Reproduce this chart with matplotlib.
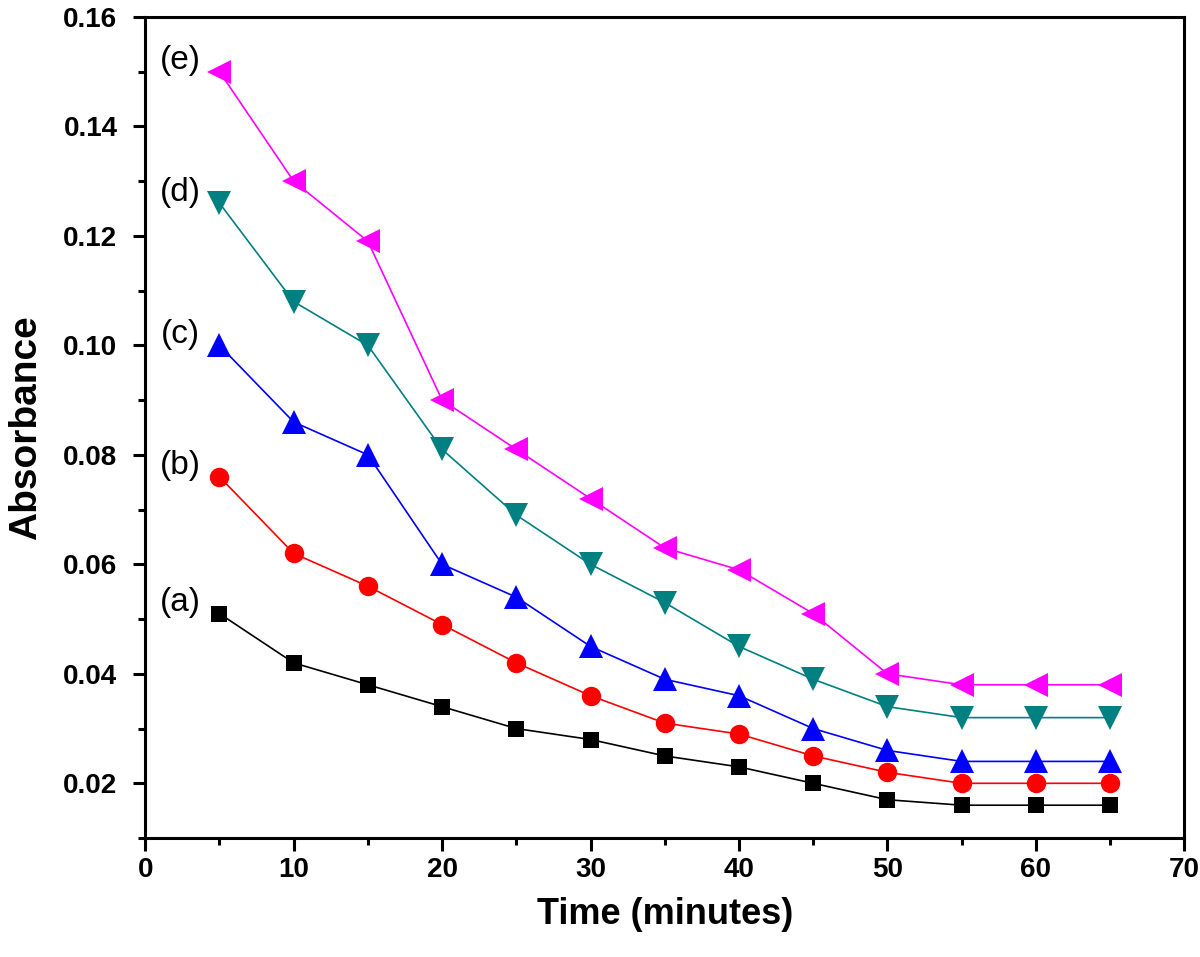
import matplotlib

matplotlib.use("Agg")
import matplotlib.pyplot as plt
from matplotlib.ticker import MultipleLocator

plt.rcParams["font.family"] = ["Liberation Sans", "DejaVu Sans"]

# time points (minutes)
time = [5, 10, 15, 20, 25, 30, 35, 40, 45, 50, 55, 60, 65]

# absorbance curves (a)-(e)
abs_a = [0.051, 0.042, 0.038, 0.034, 0.030, 0.028, 0.025, 0.023, 0.020, 0.017, 0.016, 0.016, 0.016]
abs_b = [0.076, 0.062, 0.056, 0.049, 0.042, 0.036, 0.031, 0.029, 0.025, 0.022, 0.020, 0.020, 0.020]
abs_c = [0.100, 0.086, 0.080, 0.060, 0.054, 0.045, 0.039, 0.036, 0.030, 0.026, 0.024, 0.024, 0.024]
abs_d = [0.126, 0.108, 0.100, 0.081, 0.069, 0.060, 0.053, 0.045, 0.039, 0.034, 0.032, 0.032, 0.032]
abs_e = [0.150, 0.130, 0.119, 0.090, 0.081, 0.072, 0.063, 0.059, 0.051, 0.040, 0.038, 0.038, 0.038]

labels = ["(a)", "(b)", "(c)", "(d)", "(e)"]

series = [
    (abs_a, "black", "s", 12),
    (abs_b, "red", "o", 14),
    (abs_c, "blue", "^", 17),
    (abs_d, "#008080", "v", 17),
    (abs_e, "magenta", "<", 17),
]

fig = plt.figure(figsize=(12, 9.57), dpi=100)
ax = fig.add_axes([0.121, 0.1243, 0.866, 0.8580])

for (ys, color, marker, ms), lab in zip(series, labels):
    ax.plot(time, ys, color=color, marker=marker, markersize=ms, linewidth=1.2,
            markeredgewidth=0)
    # curve label to the left of the first point
    ax.text(time[0] - 2.6, ys[0] + 0.0020, lab, fontsize=24, ha="center", va="center")

ax.set_xlim(0, 70)
ax.set_ylim(0.01, 0.16)
ax.xaxis.set_major_locator(MultipleLocator(10))
ax.xaxis.set_minor_locator(MultipleLocator(5))
ax.yaxis.set_minor_locator(MultipleLocator(0.01))
ax.set_yticks([0.02, 0.04, 0.06, 0.08, 0.10, 0.12, 0.14, 0.16])
ax.set_yticklabels(["0.02", "0.04", "0.06", "0.08", "0.10", "0.12", "0.14", "0.16"])

for side in ["left", "bottom", "top", "right"]:
    ax.spines[side].set_linewidth(2.2)

ax.tick_params(which="major", direction="out", length=9, width=2.2,
               labelsize=20, top=False, right=False)
ax.tick_params(axis="y", which="major", pad=11)
ax.tick_params(axis="x", which="major", pad=5)
ax.tick_params(which="minor", direction="out", length=5, width=2.2,
               top=False, right=False)
for lbl in ax.get_xticklabels() + ax.get_yticklabels():
    lbl.set_fontweight("bold")

ax.set_xlabel("Time (minutes)", fontsize=26, fontweight="bold", labelpad=10)
ax.set_ylabel("Absorbance", fontsize=28, fontweight="bold", labelpad=14)

fig.savefig("out.png", dpi=100)
